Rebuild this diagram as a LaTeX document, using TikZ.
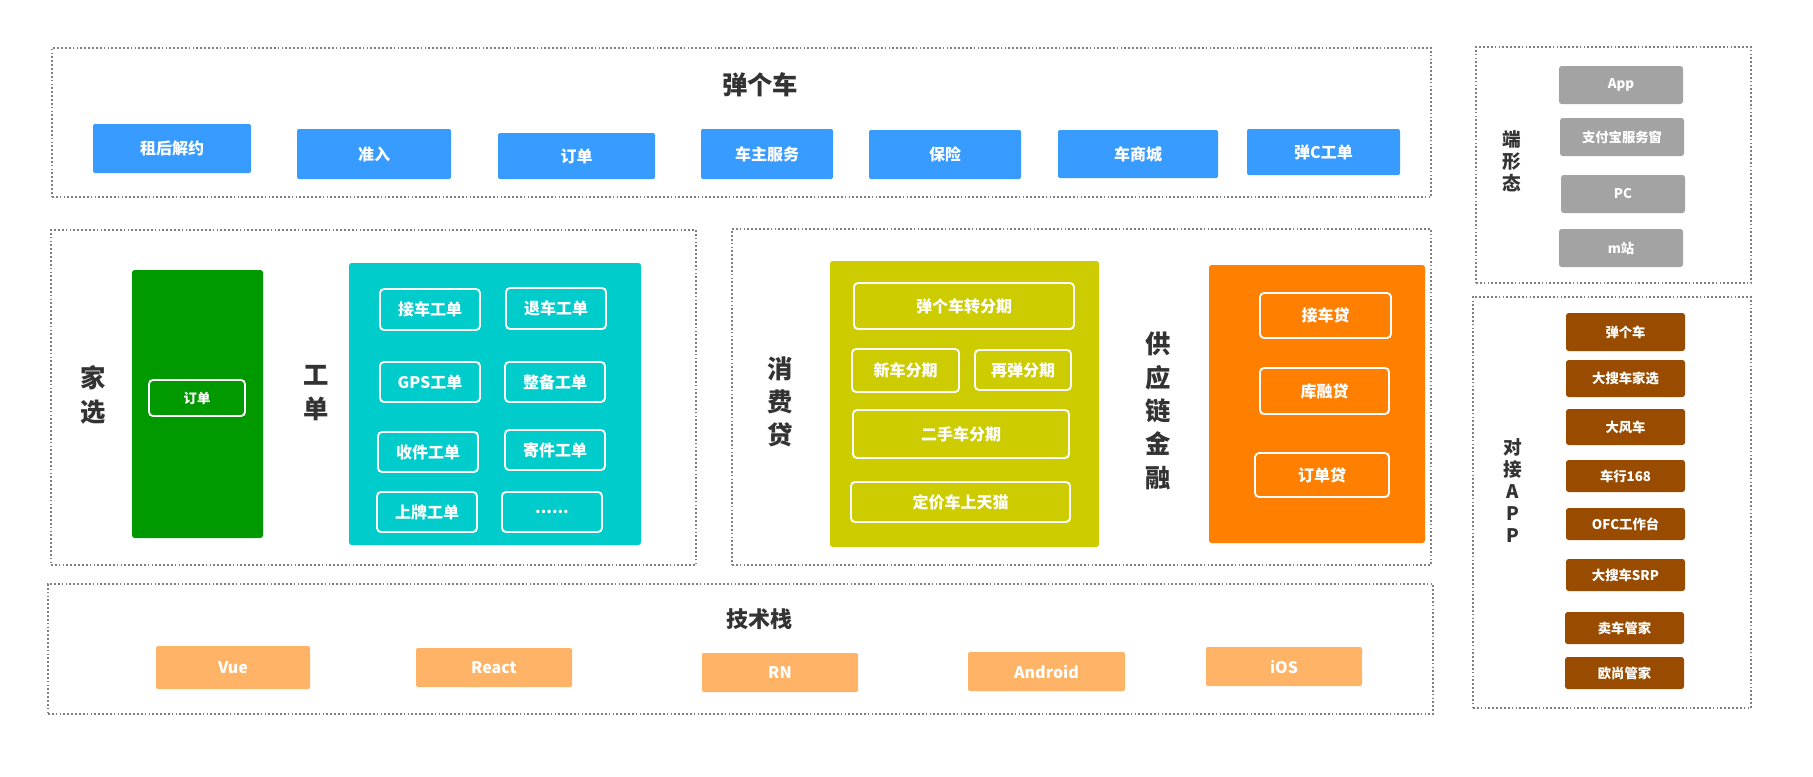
\documentclass[tikz,border=0pt]{standalone}
\usepackage{fontspec}
\setmainfont{Noto Sans CJK SC}
\definecolor{cblue}{HTML}{389BFF}
\definecolor{cgreen}{HTML}{009900}
\definecolor{ccyan}{HTML}{00CCCC}
\definecolor{colive}{HTML}{CCCC00}
\definecolor{corange}{HTML}{FF8000}
\definecolor{cgray}{HTML}{A3A3A3}
\definecolor{cbrown}{HTML}{994C00}
\definecolor{clight}{HTML}{FFB366}
\definecolor{ctext}{HTML}{333333}
\definecolor{cframe}{HTML}{7F7F7F}
\newcommand\mkbox[7]{%
  \node[#2, minimum width={(#5-#3)*0.75pt}, minimum height={(#6-#4)*0.75pt}] (#1) at ({(#3+#5)/2},{(#4+#6)/2}) {#7};}
\tikzset{
  base/.style={inner sep=0pt, outer sep=0pt, font=\bfseries\fontsize{12}{14}\selectfont, text=white},
  frame/.style={base, draw=cframe, line width=1.3pt, dash pattern=on 1.3pt off 1.6pt},
  bluebox/.style={base, fill=cblue, rounded corners=1.5pt},
  fillbox/.style={base, fill=#1, rounded corners=2pt},
  wbox/.style={base, draw=white, line width=1.4pt, rounded corners=3pt},
  graybox/.style={base, fill=cgray, rounded corners=2pt, font=\bfseries\fontsize{10}{12}\selectfont},
  brownbox/.style={base, fill=cbrown, rounded corners=2pt, font=\bfseries\fontsize{10}{12}\selectfont},
  techbox/.style={base, fill=clight, rounded corners=1.5pt},
  title/.style={inner sep=0pt, text=ctext, font=\bfseries\fontsize{19}{25}\selectfont, align=center},
  vtitle/.style={inner sep=0pt, text=ctext, font=\bfseries\fontsize{14}{16.5}\selectfont, align=center},
}
\begin{document}
\begin{tikzpicture}[x=0.75pt, y=-0.75pt]
\useasboundingbox (0,0) rectangle (1813,776);
% ---------- top panel ----------
\mkbox{ftop}{frame}{52}{48}{1431}{197}{}
\node[title] (ttop) at (760,85) {弹个车};
\mkbox{b1}{bluebox}{93}{124}{251}{173}{租后解约}
\mkbox{b2}{bluebox}{297}{129}{451}{179}{准入}
\mkbox{b3}{bluebox}{498}{133}{655}{179}{订单}
\mkbox{b4}{bluebox}{701}{129}{833}{179}{车主服务}
\mkbox{b5}{bluebox}{869}{130}{1021}{179}{保险}
\mkbox{b6}{bluebox}{1058}{130}{1218}{178}{车商城}
\mkbox{b7}{bluebox}{1247}{129}{1400}{175}{弹C工单}
% ---------- left middle panel ----------
\mkbox{fleft}{frame}{51}{230}{696}{565}{}
\node[title] (tjx) at (93,395) {家\\选};
\mkbox{green}{fillbox=cgreen}{132}{270}{263}{538}{}
\mkbox{gdd}{wbox, font=\bfseries\fontsize{10}{12}\selectfont}{149}{380}{245}{416}{订单}
\node[title] (tgd) at (316,393) {工\\单};
\mkbox{cyan}{fillbox=ccyan}{349}{263}{641}{545}{}
\mkbox{c1}{wbox}{380}{289}{480}{330}{接车工单}
\mkbox{c2}{wbox}{506}{288}{606}{329}{退车工单}
\mkbox{c3}{wbox}{380}{362}{480}{402}{GPS工单}
\mkbox{c4}{wbox}{505}{362}{605}{402}{整备工单}
\mkbox{c5}{wbox}{378}{432}{478}{472}{收件工单}
\mkbox{c6}{wbox}{505}{430}{605}{470}{寄件工单}
\mkbox{c7}{wbox}{377}{492}{477}{532}{上牌工单}
\mkbox{c8}{wbox}{502}{492}{602}{532}{......}
% ---------- right middle panel ----------
\mkbox{fmid}{frame}{732}{229}{1431}{565}{}
\node[title] (txf) at (780,402) {消\\费\\贷};
\mkbox{olive}{fillbox=colive}{830}{261}{1099}{547}{}
\mkbox{o1}{wbox}{854}{283}{1074}{329}{弹个车转分期}
\mkbox{o2}{wbox}{852}{349}{959}{392}{新车分期}
\mkbox{o3}{wbox}{975}{350}{1071}{390}{再弹分期}
\mkbox{o4}{wbox}{853}{410}{1069}{458}{二手车分期}
\mkbox{o5}{wbox}{851}{482}{1070}{522}{定价车上天猫}
\node[title] (tgy) at (1158,411) {供\\应\\链\\金\\融};
\mkbox{orange}{fillbox=corange}{1209}{265}{1425}{543}{}
\mkbox{r1}{wbox}{1260}{293}{1391}{338}{接车贷}
\mkbox{r2}{wbox}{1260}{368}{1389}{414}{库融贷}
\mkbox{r3}{wbox}{1255}{453}{1389}{497}{订单贷}
% ---------- bottom panel ----------
\mkbox{fbot}{frame}{48}{584}{1433}{714}{}
\node[title, font=\bfseries\fontsize{16.5}{20}\selectfont] (tjs) at (759,619) {技术栈};
\mkbox{t1}{techbox}{156}{646}{310}{689}{Vue}
\mkbox{t2}{techbox}{416}{648}{572}{687}{React}
\mkbox{t3}{techbox}{702}{653}{858}{692}{RN}
\mkbox{t4}{techbox}{968}{652}{1125}{691}{Android}
\mkbox{t5}{techbox}{1206}{647}{1362}{686}{iOS}
% ---------- right top panel ----------
\mkbox{frt}{frame}{1476}{47}{1751}{283}{}
\node[vtitle] (tdx) at (1512,161) {端\\形\\态};
\mkbox{g1}{graybox}{1559}{66}{1683}{104}{App}
\mkbox{g2}{graybox}{1560}{118}{1684}{156}{支付宝服务窗}
\mkbox{g3}{graybox}{1561}{175}{1685}{213}{PC}
\mkbox{g4}{graybox}{1559}{229}{1683}{267}{m站}
% ---------- right bottom panel ----------
\mkbox{frb}{frame}{1473}{297}{1751}{708}{}
\node[vtitle] (tdj) at (1513,491) {对\\接\\A\\P\\P};
\mkbox{a1}{brownbox}{1566}{313}{1685}{351}{弹个车}
\mkbox{a2}{brownbox}{1566}{360}{1685}{397}{大搜车家选}
\mkbox{a3}{brownbox}{1566}{409}{1685}{445}{大风车}
\mkbox{a4}{brownbox}{1566}{460}{1685}{492}{车行168}
\mkbox{a5}{brownbox}{1566}{508}{1685}{540}{OFC工作台}
\mkbox{a6}{brownbox}{1566}{559}{1685}{591}{大搜车SRP}
\mkbox{a7}{brownbox}{1565}{612}{1684}{644}{卖车管家}
\mkbox{a8}{brownbox}{1565}{657}{1684}{689}{欧尚管家}
\end{tikzpicture}
\end{document}
